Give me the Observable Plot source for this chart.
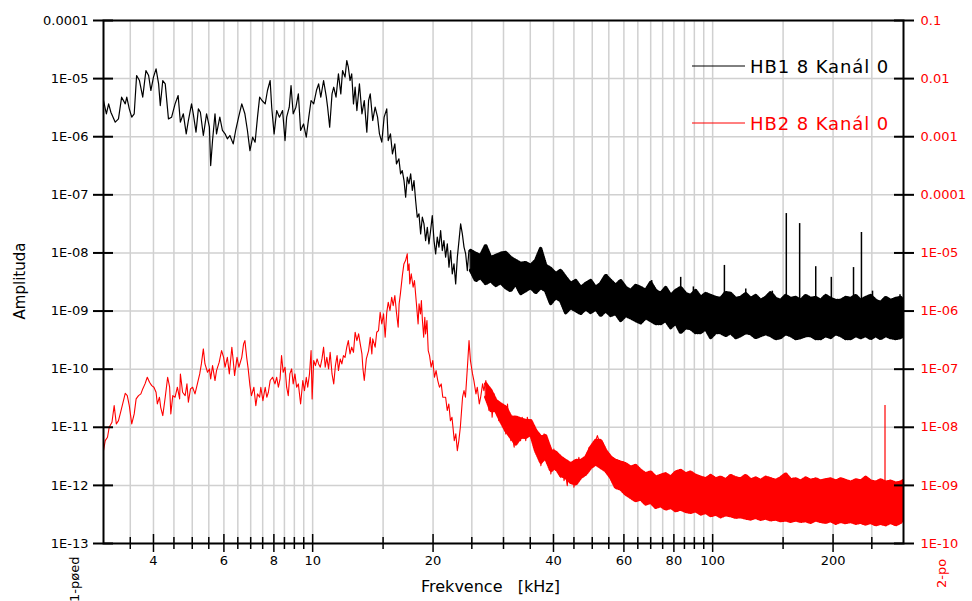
<!DOCTYPE html>
<html><head><meta charset="utf-8">
<script src="https://cdn.jsdelivr.net/npm/d3@7"></script>
<script src="https://cdn.jsdelivr.net/npm/@observablehq/plot@0.6"></script>
<style>
html,body{margin:0;padding:0;background:#fff;}
#chart{position:relative;width:972px;height:601px;overflow:hidden;}
#chart > svg{display:block;}
#overlay{position:absolute;left:0;top:0;pointer-events:none;}
</style></head><body>
<div id="chart"></div>
<script>
// ---------- DATA ----------
// Series names (legend)
const seriesNames = ["HB1 8 Kanál 0", "HB2 8 Kanál 0"];
// HB1 (black, left axis): [frequency kHz, amplitude]
const blackLine = [
[3.00,4.2e-6],[3.05,2.48e-6],[3.09,3.68e-6],[3.13,2.64e-6],[3.21,1.78e-6],[3.27,2.03e-6],[3.33,4.79e-6],[3.40,3.68e-6],[3.43,4.79e-6],[3.48,3.02e-6],
[3.53,2.17e-6],[3.58,2.48e-6],[3.63,1.13e-5],[3.69,9.27e-6],[3.76,4.79e-6],[3.83,1.38e-5],[3.89,1.13e-5],[3.94,6.24e-6],[4.00,1.06e-5],[4.06,1.47e-5],
[4.12,8.12e-6],[4.16,3.44e-6],[4.22,9.27e-6],[4.28,8.12e-6],[4.36,2.03e-6],[4.44,2.17e-6],[4.53,3.68e-6],[4.61,5.12e-6],[4.67,1.78e-6],[4.75,2.48e-6],
[4.83,1.12e-6],[4.89,1.9e-6],[4.98,3.68e-6],[5.03,2.48e-6],[5.11,1.2e-6],[5.18,3.02e-6],[5.24,2.64e-6],[5.33,1.05e-6],[5.43,2.48e-6],[5.52,1.46e-6],
[5.56,3.19e-7],[5.62,8.6e-7],[5.70,2.48e-6],[5.75,1.12e-6],[5.86,2.17e-6],[5.95,1.28e-6],[6.04,1.12e-6],[6.12,9.19e-7],[6.21,1.05e-6],[6.33,7.53e-7],
[6.42,1.28e-6],[6.53,2.17e-6],[6.65,3.68e-6],[6.77,2.48e-6],[6.87,1.28e-6],[6.97,5.78e-7],[7.08,9.8e-7],[7.18,8.05e-7],[7.28,2.17e-6],[7.37,4.79e-6],
[7.47,4.2e-6],[7.61,3.68e-6],[7.71,6.24e-6],[7.83,9.27e-6],[7.90,3.22e-6],[8.01,1.12e-6],[8.13,2.82e-6],[8.26,2.17e-6],[8.41,2.82e-6],[8.53,8.6e-7],
[8.61,2.17e-6],[8.74,3.22e-6],[8.83,7.6e-6],[8.94,2.48e-6],[9.08,3.22e-6],[9.21,5.47e-6],[9.33,1.28e-6],[9.49,1.66e-6],[9.64,9.8e-7],[9.78,2.17e-6],
[9.91,4.2e-6],[10.06,3.68e-6],[10.22,6.24e-6],[10.35,8.12e-6],[10.48,4.79e-6],[10.65,9.27e-6],[10.82,4.79e-6],[10.9,3.22e-6],[11.03,1.46e-6],[11.18,5.47e-6],
[11.29,7.11e-6],[11.44,4.79e-6],[11.6,1.21e-5],[11.76,5.47e-6],[11.88,1.38e-5],[12.05,1.06e-5],[12.17,2.05e-5],[12.28,1.57e-5],[12.4,9.27e-6],[12.52,1.21e-5],
[12.65,3.68e-6],[12.77,7.11e-6],[12.9,2.82e-6],[13.09,8.12e-6],[13.28,2.48e-6],[13.46,4.2e-6],[13.66,1.2e-6],[13.8,4.2e-6],[13.93,5.47e-6],[14.13,1.9e-6],
[14.33,3.22e-6],[14.53,2.17e-6],[14.69,1.12e-6],[14.89,8.05e-7],[15.09,2.17e-6],[15.32,3.02e-6],[15.45,8.6e-7],[15.65,1.12e-6],[15.83,5.07e-7],[16.05,7.53e-7],
[16.2,3.41e-7],[16.43,4.16e-7],[16.59,2.3e-7],[16.75,2.62e-7],[16.92,1.76e-7],[17.08,9.1e-8],[17.24,2.01e-7],[17.41,1.55e-7],[17.58,2.3e-7],[17.75,1.19e-7],
[17.92,1.76e-7],[18.09,7.98e-8],[18.26,4.12e-8],[18.44,4.7e-8],[18.62,2.13e-8],[18.80,4.12e-8],[18.98,3.16e-8],[19.16,1.63e-8],[19.35,2.77e-8],[19.53,1.43e-8],
[19.72,2.43e-8],[19.91,4.4e-8],[20.11,1.63e-8],[20.30,9.6e-9],[20.49,1.87e-8],[20.69,1.26e-8],[20.89,2.43e-8],[21.09,1.10e-8],[21.29,1.63e-8],[21.50,8.45e-9],
[21.71,1.43e-8],[21.92,5.69e-9],[22.13,1.10e-8],[22.34,4.36e-9],[22.56,6.49e-9],[22.78,2.94e-9],[23.00,8.45e-9],[23.22,1.63e-8],[23.44,3.16e-8],[23.67,2.13e-8],
[23.90,1.26e-8],[24.13,9.6e-9],[24.36,4.98e-9],[24.59,1.10e-8]
];
// HB1 noise band above 25 kHz: [frequency kHz, lower edge, upper edge]
const blackBand = [
[24.83,5.0e-9,1.10e-8],[25.56,3.35e-9,9.8e-9],[26.30,3.8e-9,9.0e-9],[27.07,2.97e-9,1.34e-8],[27.86,3.35e-9,8.3e-9],[28.68,2.75e-9,9.0e-9],[29.51,3.1e-9,9.8e-9],[30.37,2.54e-9,1.02e-8],
[31.26,2.25e-9,8.3e-9],[32.17,2.97e-9,7.4e-9],[33.11,2.0e-9,6.6e-9],[34.08,2.25e-9,6.8e-9],[35.08,2.54e-9,6.1e-9],[36.10,2.08e-9,7.4e-9],[37.15,2.54e-9,1.19e-8],[38.24,2.25e-9,6.1e-9],
[39.36,1.35e-9,5.4e-9],[40.50,1.71e-9,4.4e-9],[41.69,1.52e-9,5.0e-9],[42.90,9.4e-10,3.8e-9],[44.16,1.15e-9,2.97e-9],[45.45,1.02e-9,3.35e-9],[46.77,9.1e-10,2.54e-9],[48.14,1.10e-9,2.97e-9],
[49.55,9.4e-10,3.35e-9],[50.99,1.10e-9,2.54e-9],[52.48,8.4e-10,2.97e-9],[54.01,1.02e-9,4.1e-9],[55.59,8.4e-10,3.35e-9],[57.21,9.1e-10,2.75e-9],[58.88,6.9e-10,3.35e-9],[60.60,8.4e-10,2.54e-9],
[62.37,7.7e-10,2.25e-9],[64.19,6.9e-10,2.75e-9],[66.07,6.3e-10,2.54e-9],[67.99,7.7e-10,2.25e-9],[69.98,6.9e-10,3.1e-9],[72.03,6.1e-10,2.25e-9],[74.13,6.1e-10,2.0e-9],[76.30,6.9e-10,2.54e-9],
[78.52,5.2e-10,1.85e-9],[80.82,6.3e-10,2.25e-9],[83.18,4.27e-10,2.54e-9],[85.60,5.2e-10,2.0e-9],[88.10,5.0e-10,1.85e-9],[90.67,4.27e-10,2.25e-9],[93.33,4.27e-10,1.71e-9],[96.05,5.0e-10,2.0e-9],
[98.86,3.5e-10,1.85e-9],[101.7,4.27e-10,1.71e-9],[104.7,4.27e-10,1.64e-9],[107.8,3.8e-10,2.08e-9],[110.9,4.27e-10,2.0e-9],[114.2,3.5e-10,1.64e-9],[117.5,3.8e-10,1.71e-9],[120.9,4.27e-10,2.0e-9],
[124.5,4.1e-10,1.64e-9],[128.1,3.5e-10,1.85e-9],[131.8,3.8e-10,1.52e-9],[135.7,4.1e-10,1.71e-9],[139.6,3.8e-10,2.08e-9],[143.7,3.37e-10,1.64e-9],[147.9,3.5e-10,1.52e-9],[152.2,4.1e-10,1.85e-9],
[156.7,3.8e-10,1.64e-9],[161.3,3.37e-10,1.71e-9],[166.0,3.5e-10,1.52e-9],[170.8,3.8e-10,1.85e-9],[175.8,3.8e-10,1.64e-9],[181.0,3.37e-10,1.71e-9],[186.2,3.37e-10,1.52e-9],[191.7,3.8e-10,1.85e-9],
[197.2,3.5e-10,1.64e-9],[203.0,4.1e-10,1.52e-9],[208.9,3.8e-10,1.52e-9],[215.0,3.37e-10,1.71e-9],[221.3,3.37e-10,1.64e-9],[227.8,3.8e-10,1.85e-9],[234.4,3.5e-10,1.52e-9],[241.3,3.8e-10,1.71e-9],
[248.3,3.37e-10,1.85e-9],[255.6,3.8e-10,1.52e-9],[263.0,3.37e-10,1.40e-9],[270.7,3.8e-10,1.71e-9],[278.6,3.5e-10,1.52e-9],[286.8,3.37e-10,1.64e-9],[295.1,3.5e-10,1.71e-9],[300,3.8e-10,1.52e-9]
];
// HB1 narrow spectral lines: [frequency kHz, foot, peak]
const blackSpikes = [
[54.3,2.5e-9,4.25e-9],[59.0,2.2e-9,3.4e-9],[70.4,1.8e-9,3.35e-9],[83.2,1.6e-9,3.8e-9],[89.5,1.5e-9,2.6e-9],[107,1.4e-9,6.1e-9],
[121,1.4e-9,2.4e-9],[141,1.3e-9,2.2e-9],[152.8,1.3e-9,4.76e-8],[165,1.3e-9,3.2e-8],[181,1.3e-9,5.8e-9],[198,1.3e-9,3.8e-9],
[225,1.3e-9,5.6e-9],[235.5,1.3e-9,2.25e-8],[251,1.3e-9,2.2e-9],[294,1.3e-9,1.9e-9]
];
// HB2 (red, right axis units): [frequency kHz, amplitude]
const redLine = [
[3.00,3.97e-9],[3.03,5.9e-9],[3.07,6.73e-9],[3.10,1.0e-8],[3.15,1.22e-8],[3.19,2.36e-8],[3.23,1.14e-8],[3.27,1.30e-8],[3.31,1.81e-8],[3.35,2.52e-8],
[3.40,3.85e-8],[3.44,3.51e-8],[3.48,2.36e-8],[3.53,1.14e-8],[3.58,1.70e-8],[3.62,3.08e-8],[3.67,3.51e-8],[3.72,3.75e-8],[3.76,4.57e-8],[3.81,5.58e-8],
[3.86,7.26e-8],[3.91,5.96e-8],[3.96,5.22e-8],[4.01,4.89e-8],[4.06,4.01e-8],[4.09,2.52e-8],[4.14,3.29e-8],[4.17,2.21e-8],[4.22,1.59e-8],[4.28,3.29e-8],
[4.34,7.26e-8],[4.39,4.89e-8],[4.42,1.70e-8],[4.47,3.51e-8],[4.53,3.29e-8],[4.59,4.89e-8],[4.65,3.08e-8],[4.67,8.28e-8],[4.73,4.01e-8],[4.80,3.51e-8],
[4.85,5.58e-8],[4.89,2.7e-8],[4.95,4.57e-8],[5.01,4.89e-8],[5.08,3.75e-8],[5.15,5.58e-8],[5.22,8.28e-8],[5.27,1.23e-7],[5.33,2.23e-7],[5.38,1.23e-7],
[5.46,8.85e-8],[5.52,1.01e-7],[5.56,6.8e-8],[5.62,1.15e-7],[5.70,6.37e-8],[5.75,9.46e-8],[5.84,1.32e-7],[5.92,2.09e-7],[5.99,1.60e-7],[6.04,1.08e-7],
[6.12,1.60e-7],[6.19,8.28e-8],[6.28,2.39e-7],[6.33,1.41e-7],[6.38,7.76e-8],[6.47,1.60e-7],[6.54,1.08e-7],[6.65,1.60e-7],[6.72,2.72e-7],[6.77,3.1e-7],
[6.84,1.60e-7],[6.90,1.01e-7],[6.97,5.22e-8],[7.03,3.51e-8],[7.13,4.89e-8],[7.21,2.36e-8],[7.28,3.75e-8],[7.37,3.29e-8],[7.42,4.89e-8],[7.51,2.88e-8],
[7.61,4.89e-8],[7.68,3.29e-8],[7.75,4.01e-8],[7.83,6.37e-8],[7.94,7.26e-8],[8.05,5.58e-8],[8.13,7.26e-8],[8.21,4.89e-8],[8.29,6.8e-8],[8.36,1.71e-7],
[8.44,8.85e-8],[8.53,1.08e-7],[8.61,4.89e-8],[8.69,3.51e-8],[8.77,8.28e-8],[8.86,1.01e-7],[8.94,5.58e-8],[9.03,8.28e-8],[9.12,4.89e-8],[9.21,5.58e-8],
[9.33,2.52e-8],[9.45,6.37e-8],[9.54,4.28e-8],[9.64,7.26e-8],[9.72,4.89e-8],[9.82,8.28e-8],[9.91,2.09e-7],[9.97,3.08e-8],[10.06,1.41e-7],[10.16,1.15e-7],
[10.26,1.5e-7],[10.35,1.23e-7],[10.45,1.08e-7],[10.55,1.5e-7],[10.65,2.39e-7],[10.75,1.08e-7],[10.85,1.60e-7],[10.96,1.01e-7],[11.06,1.95e-7],[11.18,8.28e-8],
[11.29,5.58e-8],[11.40,1.15e-7],[11.51,1.71e-7],[11.6,9.46e-8],[11.72,1.5e-7],[11.83,1.23e-7],[11.94,1.71e-7],[12.05,1.60e-7],[12.17,2.39e-7],[12.28,3.1e-7],
[12.4,1.83e-7],[12.52,2.39e-7],[12.65,1.95e-7],[12.77,4.32e-7],[12.9,3.1e-7],[13.03,4.05e-7],[13.15,2.72e-7],[13.28,1.83e-7],[13.36,1.01e-7],[13.46,6.37e-8],
[13.62,1.5e-7],[13.8,2.09e-7],[13.93,3.55e-7],[14.06,1.83e-7],[14.13,3.32e-7],[14.33,2.39e-7],[14.46,4.32e-7],[14.61,4.62e-7],[14.75,9.5e-7],[14.89,6.0e-7],
[15.04,8.93e-7],[15.18,3.55e-7],[15.32,9.5e-7],[15.45,1.42e-6],[15.61,1.02e-6],[15.76,1.73e-6],[15.9,1.24e-6],[16.05,1.85e-6],[16.2,9.5e-7],[16.36,5.27e-7],
[16.45,1.33e-6],[16.57,1.97e-6],[16.76,4.08e-6],[16.91,6.48e-6],[17.07,7.4e-6],[17.24,9.64e-6],[17.3,4.98e-6],[17.42,6.48e-6],[17.49,2.94e-6],[17.64,4.36e-6],
[17.83,2.57e-6],[17.97,3.35e-6],[18.16,1.42e-6],[18.35,6.0e-7],[18.45,1.33e-6],[18.6,8.93e-7],[18.7,1.52e-6],[18.8,7.33e-7],[18.95,3.55e-7],[19.07,7.83e-7],
[19.16,4.05e-7],[19.31,6.86e-7],[19.45,2.09e-7],[19.6,1.71e-7],[19.78,1.08e-7],[19.97,1.41e-7],[20.16,7.26e-8],[20.35,9.46e-8],[20.55,6.37e-8],[20.75,4.89e-8],
[20.96,5.58e-8],[21.15,3.29e-8],[21.5,3.29e-8],[21.7,1.94e-8],[21.9,2.52e-8],[22.1,1.30e-8],[22.3,1.49e-8],[22.6,5.9e-9],[22.8,7.69e-9],[23.0,3.97e-9],
[23.2,5.9e-9],[23.4,1.0e-8],[23.7,3.29e-8],[23.9,4.28e-8],[24.1,3.29e-8],[24.4,1.23e-7],[24.6,3.1e-7],[24.8,1.41e-7],[25.1,8.28e-8],[25.3,6.37e-8],
[25.6,3.75e-8],[25.8,4.89e-8],[26.1,2.52e-8],[26.3,3.29e-8],[26.6,5.58e-8],[26.8,4.28e-8],[27.1,6.37e-8],[27.4,3.29e-8],[27.6,1.94e-8],[27.9,3.75e-8],
[28.1,1.49e-8],[28.4,3.75e-8],[28.7,1.94e-8],[29.0,2.88e-8],[29.2,1.30e-8],[29.5,1.70e-8],[29.8,1.14e-8],[30.1,2.21e-8],[30.4,7.69e-9],[30.7,2.52e-8],
[31.0,1.0e-8],[31.3,5.9e-9],[31.6,6.73e-9],[31.9,4.53e-9],[32.2,1.49e-8],[32.5,1.0e-8],[32.8,1.22e-8],[33.1,5.9e-9],[33.4,1.49e-8],[33.8,1.0e-8],
[34.1,5.9e-9],[34.4,1.49e-8],[34.7,1.14e-8],[35.1,7.69e-9],[35.4,1.0e-8],[35.8,6.73e-9],[36.1,5.17e-9],[36.5,3.48e-9],[36.8,5.9e-9],[37.2,2.19e-9],
[37.5,3.05e-9],[37.9,7.69e-9],[38.2,4.53e-9],[38.6,2.67e-9],[39.0,3.48e-9],[39.4,1.58e-9],[39.7,2.34e-9],[40.1,4.24e-9],[40.5,1.80e-9],[40.9,3.05e-9],
[41.3,1.80e-9],[41.7,1.38e-9],[42.1,2.67e-9],[42.5,1.21e-9],[42.9,1.58e-9],[43.3,9.9e-10],[43.7,1.80e-9],[44.2,1.21e-9],[44.6,2.05e-9],[45.0,9.3e-10],
[45.5,1.58e-9],[45.9,2.05e-9],[46.3,3.05e-9],[46.8,1.58e-9],[47.2,2.67e-9],[47.7,1.80e-9],[48.2,3.05e-9],[48.6,2.34e-9],[49.1,4.53e-9],[49.6,3.48e-9],
[50.0,5.17e-9],[50.5,2.67e-9],[51.0,5.9e-9],[51.5,7.2e-9],[52.0,5.9e-9],[52.5,4.53e-9],[53.0,3.48e-9],[53.5,3.05e-9],[54.0,2.67e-9],[54.5,2.34e-9],
[55.1,1.58e-9],[55.6,1.80e-9],[56.1,1.21e-9]
];
// HB2 noise band from 27 kHz (right axis units): [frequency kHz, lower edge, upper edge]
const redBand = [
[27.1,3.29e-8,5.58e-8],[27.9,1.94e-8,4.28e-8],[28.7,1.94e-8,2.88e-8],[29.5,1.30e-8,2.52e-8],[30.4,8.8e-9,2.21e-8],[31.3,6.73e-9,1.49e-8],
[32.2,5.17e-9,1.49e-8],[33.1,6.73e-9,1.39e-8],[34.1,6.73e-9,1.30e-8],[35.1,7.69e-9,1.30e-8],[36.1,3.97e-9,8.77e-9],[37.2,2.5e-9,6.73e-9],
[38.2,3.05e-9,7.2e-9],[39.4,1.80e-9,3.97e-9],[40.5,2.05e-9,3.72e-9],[41.7,1.48e-9,3.05e-9],[42.9,1.38e-9,2.67e-9],[44.2,1.13e-9,2.34e-9],
[45.5,1.06e-9,2.67e-9],[46.8,1.38e-9,2.67e-9],[48.2,1.58e-9,3.05e-9],[49.6,2.05e-9,4.53e-9],[51.0,2.34e-9,5.9e-9],[52.5,2.05e-9,5.9e-9],
[54.0,1.80e-9,3.97e-9],[55.6,1.38e-9,3.05e-9],
[57.21,9.3e-10,2.67e-9],[58.88,8.7e-10,2.50e-9],[60.60,7.1e-10,2.34e-9],[62.37,6.25e-10,2.05e-9],[64.19,5.47e-10,2.19e-9],[66.07,5.85e-10,1.80e-9],
[67.99,4.8e-10,1.58e-9],[69.98,5.13e-10,1.69e-9],[72.03,4.2e-10,1.38e-9],[74.13,4.49e-10,1.48e-9],[76.30,3.93e-10,1.58e-9],[78.52,4.2e-10,1.38e-9],
[80.82,3.68e-10,1.69e-9],[83.18,3.93e-10,1.80e-9],[85.60,3.59e-10,1.58e-9],[88.10,3.44e-10,1.69e-9],[90.67,3.68e-10,1.48e-9],[93.33,3.22e-10,1.38e-9],
[96.05,3.44e-10,1.29e-9],[98.86,3.02e-10,1.48e-9],[101.7,3.22e-10,1.29e-9],[104.7,2.9e-10,1.38e-9],[107.8,3.14e-10,1.24e-9],[110.9,3.02e-10,1.48e-9],
[114.2,2.83e-10,1.34e-9],[117.5,2.9e-10,1.29e-9],[120.9,2.75e-10,1.48e-9],[124.5,2.65e-10,1.24e-9],[128.1,2.83e-10,1.34e-9],[131.8,2.61e-10,1.21e-9],
[135.7,2.75e-10,1.38e-9],[139.6,2.55e-10,1.29e-9],[143.7,2.65e-10,1.21e-9],[147.9,2.48e-10,1.34e-9],[152.2,2.55e-10,1.58e-9],[156.7,2.41e-10,1.24e-9],
[161.3,2.55e-10,1.29e-9],[166.0,2.41e-10,1.18e-9],[170.8,2.48e-10,1.34e-9],[175.8,2.32e-10,1.21e-9],[181.0,2.55e-10,1.29e-9],[186.2,2.41e-10,1.18e-9],
[191.7,2.32e-10,1.24e-9],[197.2,2.48e-10,1.29e-9],[203.0,2.23e-10,1.18e-9],[208.9,2.41e-10,1.29e-9],[215.0,2.29e-10,1.21e-9],[221.3,2.41e-10,1.13e-9],
[227.8,2.23e-10,1.24e-9],[234.4,2.32e-10,1.18e-9],[241.3,2.17e-10,1.38e-9],[248.3,2.32e-10,1.18e-9],[255.6,2.11e-10,1.13e-9],[263.0,2.23e-10,1.24e-9],
[270.7,2.11e-10,1.13e-9],[278.6,2.32e-10,1.18e-9],[286.8,2.11e-10,1.09e-9],[295.1,2.32e-10,1.13e-9],[300,2.7e-10,1.21e-9]
];
// HB2 narrow spectral line (right axis units): [frequency kHz, foot, peak]
const redSpikes = [[269.7,1.0e-9,2.36e-8]];

// Axis ticks
const xLabeledTicks = [4, 6, 8, 10, 20, 40, 60, 80, 100, 200];
const xMinorTicks = [3.5, 4.5, 5, 5.5, 6.5, 7, 7.5, 8.5, 9, 9.5, 15, 25, 30, 35, 45, 50, 55, 65, 70, 75, 85, 90, 95, 150, 250];
const yDecades = [1e-13, 1e-12, 1e-11, 1e-10, 1e-9, 1e-8, 1e-7, 1e-6, 1e-5, 1e-4];
// right axis (HB2) sits three decades above the left axis
const rightAxisFactor = 1e3;

// ---------- CHART ----------
const fmtExp = e => e >= -4 ? (10 ** e).toFixed(-e) : "1E-" + String(-e).padStart(2, "0");
const expOf = v => Math.round(Math.log10(v));
const red = "#ff0000";
const grid = "#d0d0d0";
const xGrid = [...xLabeledTicks, ...xMinorTicks];

// a noisy band: filled core plus a fine comb along both edges
function noiseBand(data, color, k) {
  const o = {x: d => d[0], stroke: color};
  return [
    Plot.areaY(data, {x: d => d[0], y1: d => d[1] / k, y2: d => d[2] / k, fill: color, stroke: color, strokeWidth: 0.8}),
    Plot.line(data, {...o, y: d => d[2] / k, strokeWidth: 3.5, strokeDasharray: "0.8 1.3"}),
    Plot.line(data, {...o, y: d => d[1] / k, strokeWidth: 3.5, strokeDasharray: "0.8 1.6"})
  ];
}

const chart = Plot.plot({
  width: 972, height: 601,
  marginLeft: 103, marginRight: 69, marginTop: 20, marginBottom: 58,
  x: {type: "log", domain: [3, 300], axis: null},
  y: {type: "log", domain: [1e-13, 1e-4], axis: null},
  clip: true,
  style: {fontFamily: "'DejaVu Sans', sans-serif", fontSize: "13px", background: "#fff", color: "#000"},
  marks: [
    Plot.ruleX(xGrid, {stroke: grid, strokeWidth: 1.5}),
    Plot.ruleY(yDecades, {stroke: grid, strokeWidth: 1.5}),
    // HB2 red
    ...noiseBand(redBand, red, rightAxisFactor),
    Plot.line(redLine, {x: d => d[0], y: d => d[1] / rightAxisFactor, stroke: red, strokeWidth: 1.1}),
    Plot.ruleX(redSpikes, {x: d => d[0], y1: d => d[1] / rightAxisFactor, y2: d => d[2] / rightAxisFactor, stroke: red, strokeWidth: 1.2}),
    // HB1 black
    ...noiseBand(blackBand, "#000", 1),
    Plot.line(blackLine, {x: d => d[0], y: d => d[1], stroke: "#000", strokeWidth: 1.2}),
    Plot.ruleX(blackSpikes, {x: d => d[0], y1: d => d[1], y2: d => d[2], stroke: "#000", strokeWidth: 1.5}),
    Plot.frame({stroke: "#000", strokeWidth: 2}),
    // axes
    Plot.axisY({anchor: "left", ticks: yDecades, tickFormat: d => fmtExp(expOf(d)), tickSize: 20, dx: 10, tickPadding: 5, strokeWidth: 2, fontSize: 13, clip: false}),
    Plot.axisY({anchor: "right", ticks: yDecades, tickFormat: d => fmtExp(expOf(d * rightAxisFactor)), tickSize: 20, dx: -10, tickPadding: 7, strokeWidth: 2, fill: red, fontSize: 13, clip: false}),
    Plot.axisX({anchor: "bottom", ticks: xLabeledTicks, tickFormat: () => "", tickSize: 18, dy: -9, strokeWidth: 1.5, clip: false}),
    Plot.axisX({anchor: "bottom", ticks: xMinorTicks, tickFormat: () => "", tickSize: 12, dy: -6, strokeWidth: 1.5, clip: false}),
    Plot.text(xLabeledTicks, {x: d => d, text: d => String(d), frameAnchor: "bottom", lineAnchor: "top", dy: 12, fontSize: 13, fill: "#000", clip: false})
  ]
});
const host = document.getElementById("chart");
host.appendChild(chart);

// ---------- LABELS & LEGEND (overlay) ----------
const ov = d3.select(host).append("svg").attr("id", "overlay")
  .attr("width", 972).attr("height", 601)
  .style("font-family", "'DejaVu Sans', sans-serif");
ov.append("text").attr("transform", "translate(25,281) rotate(-90)").attr("text-anchor", "middle")
  .attr("font-size", 15).text("Amplituda");
ov.append("text").attr("x", 421).attr("y", 592).attr("font-size", 16)
  .text("Frekvence\u00a0\u00a0\u00a0[kHz]");
ov.append("text").attr("transform", "translate(79,602) rotate(-90)").attr("font-size", 13).text("1-pøed");
ov.append("text").attr("transform", "translate(946,588) rotate(-90)").attr("font-size", 13).attr("fill", red).text("2-po");
const legendColors = ["#000", red];
const legendY = [66, 123];
seriesNames.forEach((name, i) => {
  ov.append("line").attr("x1", 692).attr("x2", 745).attr("y1", legendY[i]).attr("y2", legendY[i])
    .attr("stroke", legendColors[i]).attr("stroke-width", 1);
  ov.append("text").attr("x", 750).attr("y", legendY[i] + 6.5).attr("font-size", 18)
    .attr("letter-spacing", 0.9).attr("fill", legendColors[i]).text(name);
});
</script></body></html>
